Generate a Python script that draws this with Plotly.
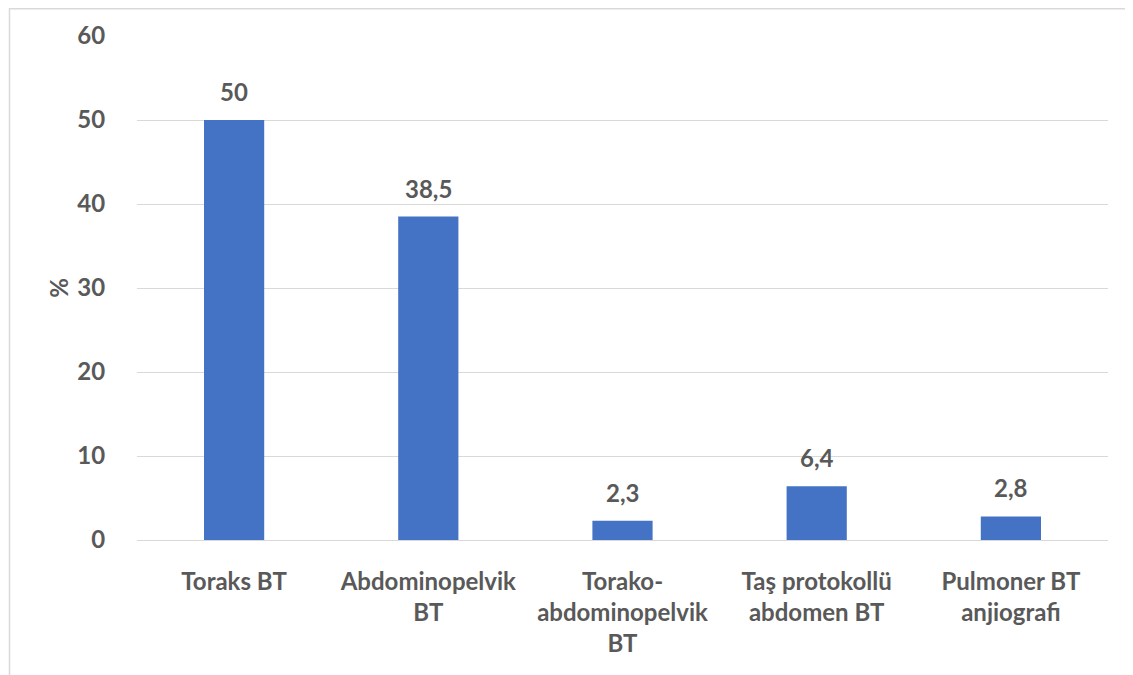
import plotly.graph_objects as go

categories = ["Toraks BT", "Abdominopelvik<br>BT", "Torako-<br>abdominopelvik<br>BT",
              "Taş protokollü<br>abdomen BT", "Pulmoner BT<br>anjiografi"]
values = [50, 38.5, 2.3, 6.4, 2.8]
labels = ["50", "38,5", "2,3", "6,4", "2,8"]
y_ticks = [0, 10, 20, 30, 40, 50, 60]

# page has an 8px body margin, so the figure is slightly smaller than the window
W, H = 1125, 667
ml, mr, mt, mb = 129, 25, 28, 135
FONT = "Lato"
GREY = "#595959"
FS = 24

fig = go.Figure(go.Bar(
    x=categories, y=values,
    marker=dict(color="#4472C4", line=dict(width=0)),
    hoverinfo="x+y",
))

for c, v, t in zip(categories, values, labels):
    fig.add_annotation(x=c, y=v, text=t, showarrow=False, yanchor="bottom",
                       yshift=12, font=dict(family=FONT, size=FS, color=GREY, weight="bold"))

pw = W - ml - mr
ph = H - mt - mb
fig.add_shape(type="rect", xref="paper", yref="paper",
              x0=(1.5 - ml) / pw, x1=(W + 20 - ml) / pw,
              y0=-(H + 20 - mt - ph) / ph, y1=(H - 0.8 - mb) / ph,
              line=dict(color="#D9D9D9", width=1.5), layer="below")

fig.update_layout(
    width=W, height=H,
    margin=dict(l=ml, r=mr, t=mt, b=mb),
    paper_bgcolor="white", plot_bgcolor="white",
    bargap=0.69, showlegend=False,
    font=dict(family=FONT, color=GREY, size=FS),
    xaxis=dict(tickfont=dict(family=FONT, size=FS, color=GREY, weight="bold"),
               showgrid=False, showline=False, ticks="outside", ticklen=20,
               tickcolor="rgba(0,0,0,0)"),
    yaxis=dict(range=[0, 60], tickvals=y_ticks, showgrid=True, gridcolor="#D9D9D9",
               gridwidth=1.3, zeroline=True, zerolinecolor="#D9D9D9", zerolinewidth=1.3,
               tickfont=dict(family=FONT, size=FS, color=GREY, weight="bold"),
               ticks="outside", ticklen=26, tickcolor="rgba(0,0,0,0)",
               title=dict(text="%", font=dict(family=FONT, size=FS, color=GREY, weight="bold"),
                          standoff=1)),
)
fig.write_html("out.html")
